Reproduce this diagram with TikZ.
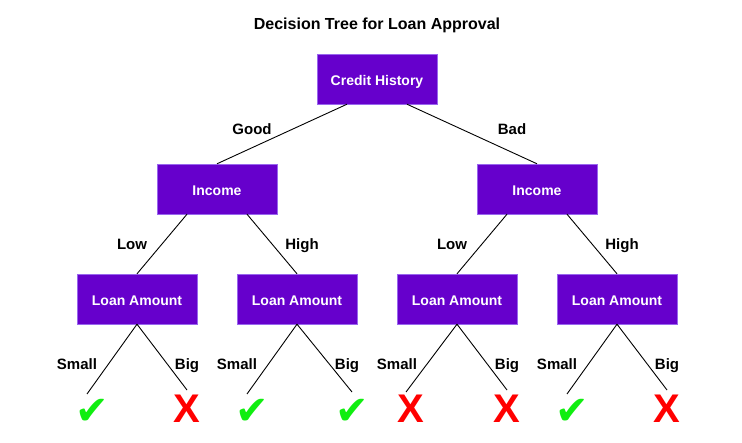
\documentclass[tikz,border=0pt]{standalone}
\usepackage{fontspec}
\setmainfont{Liberation Sans}
\newfontfamily\symfont{DejaVu Sans}
\definecolor{boxfill}{HTML}{6600CC}
\definecolor{boxline}{HTML}{9966EE}
\definecolor{yes}{HTML}{11EE11}
\definecolor{no}{HTML}{FF0000}

\begin{document}
\begin{tikzpicture}[x=1pt, y=-1pt,
    box/.style={draw=boxline, fill=boxfill, text=white, minimum height=50pt, minimum width=120pt, inner sep=0pt, text height=13.5pt, text depth=0pt, font=\fontsize{14}{16}\selectfont\bfseries},
    lbl/.style={inner sep=0pt, text height=11pt, text depth=0pt, font=\fontsize{15}{17}\selectfont\bfseries},
    leaf/.style={inner sep=0pt, text height=30pt, text depth=0pt, anchor=north},
    ok/.style={leaf, text=yes, font=\fontsize{40}{40}\selectfont\symfont},
    nok/.style={leaf, text=no, font=\fontsize{40}{40}\selectfont\bfseries},
    edge/.style={line width=0.9pt}
  ]
  \useasboundingbox (0,0) rectangle (742,443);
  \node[lbl, font=\fontsize{16}{18}\selectfont\bfseries] (title) at (377,24) {Decision Tree for Loan Approval};

  % root and second level
  \node[box] (root) at (377,79) {Credit History};
  \node[box] (inc1) at (217,189) {Income};
  \node[box] (inc2) at (537,189) {Income};
  \draw[edge] ([xshift=-30pt]root.south) -- (inc1.north);
  \draw[edge] ([xshift=30pt]root.south) -- (inc2.north);
  \node[lbl] at (252,129) {Good};
  \node[lbl] at (512,129) {Bad};

  % third level
  \node[box] (amt1) at (137,299) {Loan Amount};
  \node[box] (amt2) at (297,299) {Loan Amount};
  \node[box] (amt3) at (457,299) {Loan Amount};
  \node[box] (amt4) at (617,299) {Loan Amount};
  \draw[edge] ([xshift=-30pt]inc1.south) -- (amt1.north);
  \draw[edge] ([xshift=30pt]inc1.south) -- (amt2.north);
  \draw[edge] ([xshift=-30pt]inc2.south) -- (amt3.north);
  \draw[edge] ([xshift=30pt]inc2.south) -- (amt4.north);
  \node[lbl] at (132,244) {Low};
  \node[lbl] at (302,244) {High};
  \node[lbl] at (452,244) {Low};
  \node[lbl] at (622,244) {High};

  % leaves
  \node[ok] (res1) at (92,394) {✔};
  \node[nok] (res2) at (187,392) {X};
  \node[ok] (res3) at (252,394) {✔};
  \node[ok] (res4) at (352,394) {✔};
  \node[nok] (res5) at (411,392) {X};
  \node[nok] (res6) at (507,392) {X};
  \node[ok] (res7) at (572,394) {✔};
  \node[nok] (res8) at (667,392) {X};
  \foreach \a/\l/\r in {1/1/2, 2/3/4, 3/5/6, 4/7/8} {
    \draw[edge] (amt\a.south) -- ([xshift=-5pt]res\l.north);
    \draw[edge] (amt\a.south) -- ([yshift=2pt]res\r.north);
  }
  \foreach \x/\t in {77/Small, 187/Big, 237/Small, 347/Big, 397/Small, 507/Big, 557/Small, 667/Big}
    \node[lbl] at (\x,364) {\t};
\end{tikzpicture}
\end{document}
